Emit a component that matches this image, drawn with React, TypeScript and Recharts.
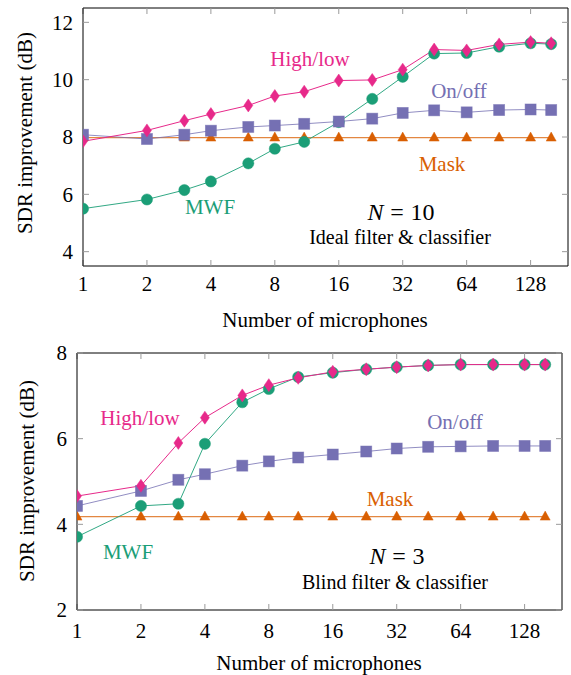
import React from "react";
import { LineChart, Line, XAxis, YAxis } from "recharts";

// number of microphones (log2 axis)
const mics = [1, 2, 3, 4, 6, 8, 11, 16, 23, 32, 45, 64, 91, 128, 160];
const xTicks = [1, 2, 4, 8, 16, 32, 64, 128];

// top panel: N = 10, ideal filter & classifier
const idealHighLow = [7.85, 8.23, 8.57, 8.8, 9.1, 9.43, 9.58, 9.97, 9.99, 10.35, 11.05, 11.02, 11.23, 11.31, 11.27];
const idealOnOff = [8.08, 7.93, 8.08, 8.22, 8.35, 8.4, 8.46, 8.54, 8.64, 8.84, 8.93, 8.86, 8.94, 8.96, 8.94];
const idealMask = [7.98, 7.98, 7.98, 7.98, 7.98, 7.98, 7.98, 7.98, 7.98, 7.98, 7.98, 7.98, 7.98, 7.98, 7.98];
const idealMwf = [5.5, 5.82, 6.15, 6.45, 7.08, 7.59, 7.83, 8.52, 9.33, 10.1, 10.91, 10.93, 11.15, 11.27, 11.24];
const idealYTicks = [4, 6, 8, 10, 12];

// bottom panel: N = 3, blind filter & classifier
const blindHighLow = [4.66, 4.9, 5.9, 6.49, 7.01, 7.25, 7.42, 7.56, 7.62, 7.67, 7.71, 7.73, 7.73, 7.73, 7.73];
const blindOnOff = [4.43, 4.78, 5.04, 5.17, 5.37, 5.47, 5.56, 5.63, 5.7, 5.77, 5.81, 5.82, 5.83, 5.83, 5.83];
const blindMask = [4.18, 4.18, 4.18, 4.18, 4.18, 4.18, 4.18, 4.18, 4.18, 4.18, 4.18, 4.18, 4.18, 4.18, 4.18];
const blindMwf = [3.71, 4.43, 4.48, 5.88, 6.85, 7.16, 7.44, 7.54, 7.62, 7.67, 7.71, 7.73, 7.73, 7.73, 7.73];
const blindYTicks = [2, 4, 6, 8];

const PINK = "#e7298a";
const GREEN = "#1b9e77";
const PURPLE = "#7570b3";
const ORANGE = "#d95f02";
const FONT = "Liberation Serif, Times New Roman, DejaVu Serif, serif";
const FS = 21;

const buildRows = (hl: number[], oo: number[], mk: number[], mw: number[]) =>
  mics.map((n, i) => ({ n, highLow: hl[i], onOff: oo[i], mask: mk[i], mwf: mw[i] }));

const idealData = buildRows(idealHighLow, idealOnOff, idealMask, idealMwf);
const blindData = buildRows(blindHighLow, blindOnOff, blindMask, blindMwf);

type Shape = "diamond" | "square" | "circle" | "triangle";

const makeDot = (shape: Shape, color: string) => (props: any) => {
  const { cx, cy, index } = props;
  const k = `${shape}-${index}`;
  if (cx == null || cy == null) return <g key={k} />;
  const edge = { stroke: color, strokeOpacity: 0.6, strokeWidth: 0.8 };
  if (shape === "diamond") {
    return <path key={k} d={`M${cx},${cy - 6.5} L${cx + 4.5},${cy} L${cx},${cy + 6.5} L${cx - 4.5},${cy} Z`} fill={color} {...edge} />;
  }
  if (shape === "square") {
    return <rect key={k} x={cx - 5.5} y={cy - 5.5} width={11} height={11} fill={color} {...edge} />;
  }
  if (shape === "circle") {
    return <circle key={k} cx={cx} cy={cy} r={5.6} fill={color} {...edge} />;
  }
  return <path key={k} d={`M${cx},${cy - 5.5} L${cx + 5},${cy + 3.5} L${cx - 5},${cy + 3.5} Z`} fill={color} {...edge} />;
};

const tickStyle = { fill: "#000", fontSize: FS, fontFamily: FONT };
const gray = { stroke: "#9a9a9a" };
const black = { stroke: "#000" };

interface PanelProps {
  data: any[];
  height: number;
  margin: { top: number; right: number; bottom: number; left: number };
  yDomain: [number, number];
  yTicks: number[];
  xTickMargin: number;
}

const Panel: React.FC<PanelProps> = ({ data, height, margin, yDomain, yTicks, xTickMargin }) => (
  <LineChart width={571} height={height} data={data} margin={margin} style={{ fontFamily: FONT }}>
    <XAxis
      xAxisId="b" dataKey="n" type="number" scale="log" domain={[1, 192]} ticks={xTicks}
      allowDataOverflow height={40} tickSize={-6} tickMargin={xTickMargin}
      tick={tickStyle} tickLine={gray} axisLine={black} interval={0}
    />
    <XAxis
      xAxisId="t" orientation="top" dataKey="n" type="number" scale="log" domain={[1, 192]} ticks={xTicks}
      allowDataOverflow height={1} tickSize={-6} tickFormatter={() => ""}
      tickLine={gray} axisLine={black} interval={0}
    />
    <YAxis
      yAxisId="l" type="number" domain={yDomain} ticks={yTicks} allowDataOverflow width={60}
      tickSize={-6} tickMargin={16} tick={tickStyle} tickLine={gray} axisLine={black} interval={0}
    />
    <YAxis
      yAxisId="r" orientation="right" type="number" domain={yDomain} ticks={yTicks} allowDataOverflow width={1}
      tickSize={-6} tickFormatter={() => ""} tickLine={gray} axisLine={black} interval={0}
    />
    <Line xAxisId="b" yAxisId="l" dataKey="mask" stroke={ORANGE} strokeOpacity={0.75} strokeWidth={1.2}
      dot={makeDot("triangle", ORANGE)} isAnimationActive={false} />
    <Line xAxisId="b" yAxisId="l" dataKey="mwf" stroke={GREEN} strokeWidth={1} strokeOpacity={0.9}
      dot={makeDot("circle", GREEN)} isAnimationActive={false} />
    <Line xAxisId="b" yAxisId="l" dataKey="onOff" stroke={PURPLE} strokeWidth={1} strokeOpacity={0.8}
      dot={makeDot("square", PURPLE)} isAnimationActive={false} />
    <Line xAxisId="b" yAxisId="l" dataKey="highLow" stroke={PINK} strokeWidth={1}
      dot={makeDot("diamond", PINK)} isAnimationActive={false} />
  </LineChart>
);

const Note: React.FC<{ x: number; y: number; color?: string; size?: number; children: React.ReactNode }> = ({
  x, y, color = "#000", size = FS, children,
}) => (
  <div style={{
    position: "absolute", left: x, top: y, transform: "translate(-50%, -50%)",
    color, fontSize: size, fontFamily: FONT, whiteSpace: "nowrap", lineHeight: 1,
  }}>
    {children}
  </div>
);

const YTitle: React.FC<{ x: number; y: number }> = ({ x, y }) => (
  <div style={{
    position: "absolute", left: x, top: y, transform: "translate(-50%, -50%) rotate(-90deg)",
    fontSize: FS, fontFamily: FONT, whiteSpace: "nowrap", lineHeight: 1,
  }}>
    SDR improvement (dB)
  </div>
);

const NLabel: React.FC<{ n: number }> = ({ n }) => (
  <span><i>N</i><span style={{ margin: "0 0.28em" }}>=</span>{n}</span>
);

export default function App() {
  return (
    <div style={{ position: "absolute", left: 0, top: 0, width: 571, height: 675, background: "#fff" }}>
      <div style={{ position: "absolute", left: 0, top: 0 }}>
        <Panel data={idealData} height={330} margin={{ top: 7, right: 2, bottom: 24, left: 23 }}
          yDomain={[3.5, 12.5]} yTicks={idealYTicks} xTickMargin={16} />
      </div>
      <div style={{ position: "absolute", left: 0, top: 330 }}>
        <Panel data={blindData} height={345} margin={{ top: 22, right: 8, bottom: 25, left: 17 }}
          yDomain={[2, 8]} yTicks={blindYTicks} xTickMargin={19} />
      </div>

      <YTitle x={25} y={133} />
      <YTitle x={27} y={481} />
      <Note x={325} y={320}>Number of microphones</Note>
      <Note x={319} y={663}>Number of microphones</Note>

      <Note x={310} y={59} color={PINK}>High/low</Note>
      <Note x={459} y={91} color={PURPLE}>On/off</Note>
      <Note x={442} y={164} color={ORANGE}>Mask</Note>
      <Note x={210} y={207} color={GREEN}>MWF</Note>
      <Note x={401} y={212} size={24}><NLabel n={10} /></Note>
      <Note x={400} y={237} size={20}>Ideal filter &amp; classifier</Note>

      <Note x={140} y={418} color={PINK}>High/low</Note>
      <Note x={455} y={422} color={PURPLE}>On/off</Note>
      <Note x={390} y={499} color={ORANGE}>Mask</Note>
      <Note x={128} y={552} color={GREEN}>MWF</Note>
      <Note x={397} y={556} size={24}><NLabel n={3} /></Note>
      <Note x={395} y={582} size={20}>Blind filter &amp; classifier</Note>
    </div>
  );
}
